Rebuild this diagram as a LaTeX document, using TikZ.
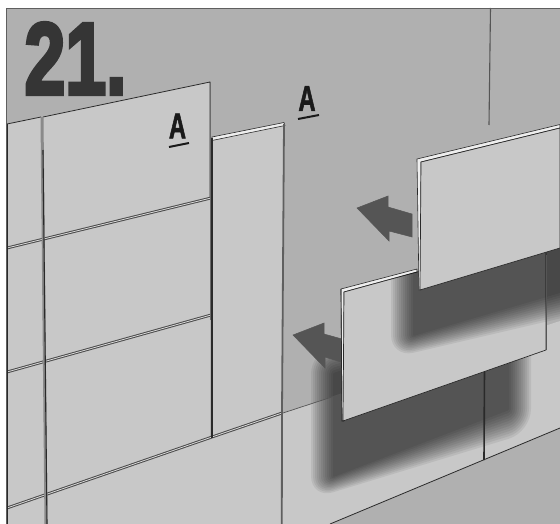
\documentclass[tikz,border=0pt]{standalone}
\usepackage{fontspec}
\newfontfamily\labelfont[FakeBold=2]{Liberation Sans Bold}
\newfontfamily\stepfont[FakeBold=4]{Liberation Sans Bold}
\definecolor{wall}{HTML}{B0B0B0}
\definecolor{tile}{HTML}{C8C8C8}
\definecolor{ink}{HTML}{2A2A2A}
\definecolor{arrowgrey}{HTML}{555555}
% soft quadrilateral: x-left, x-right, top-left y, top-right y, bottom-right y, bottom-left y
\newcommand{\softquad}[6]{\foreach \d in {1,3,...,23}{\fill[black,opacity=.066,rounded corners=\d pt] ({#1-\d},{#3-\d}) -- ({#2+\d},{#4-\d}) -- ({#2+\d},{#5+\d}) -- ({#1-\d},{#6+\d}) -- cycle;}}
\newcommand{\jointline}[2]{\draw[line width=2.8pt,color=ink!85] #1 -- #2;\draw[line width=.8pt,color=white!85!black] #1 -- #2;}
\tikzset{
 edgeline/.style={draw=ink,line width=.8pt},
 thinline/.style={draw=ink!80,line width=.7pt},
 movearrow/.style={fill=arrowgrey,draw=ink!80,line width=.5pt,line join=miter},
 panelface/.style={fill=tile,draw=ink,line width=.7pt,line join=round},
 striplight/.style={fill=white!70!tile,draw=ink,line width=.6pt,line join=round}
}
\begin{document}
\begin{tikzpicture}[x=1pt,y=-1pt]
\useasboundingbox (0,0) rectangle (560,524);
\fill[white] (0,0) rectangle (560,524);
\clip (0,0) rectangle (560,524);
% wall
\fill[wall] (6.5,8) rectangle (560,524);
% tiles
\fill[tile] (7,124) -- (210,82) -- (210,438) -- (283,412) -- (283,524) -- (7,524) -- cycle;
\fill[tile] (212,140) -- (284,125) -- (282,413) -- (212,438) -- cycle;
\fill[tile] (283,413) -- (560,321) -- (560,428) -- (330,524) -- (283,524) -- cycle;
% lower panel shadow on the wall
\begin{scope}
\clip (283,330) -- (560,250) -- (560,428) -- (330,524) -- (283,524) -- cycle;
\softquad{334}{508}{374}{316}{409}{476}
\end{scope}
% wall lines
\draw[edgeline] (7,124) -- (41,117);
\draw[edgeline] (43,117) -- (210,82) -- (210,198);
\draw[thinline] (283,413) -- (341,394);
\draw[line width=1.1pt,color=ink!80] (490.5,8) -- (489,125);
\draw[line width=1.6pt,color=ink] (484.5,370) -- (484,460);
\draw[edgeline] (560,428) -- (330,524);
% joints
\jointline{(7,248)}{(211,198)}
\jointline{(7,372)}{(211,315)}
\jointline{(7,508)}{(212,437)}
\jointline{(212,437)}{(282,413)}
% vertical joint
\draw[line width=3pt,color=ink!55] (42,117) -- (46,524);
\draw[line width=1.1pt,color=ink] (43,150) -- (47,524);
\draw[line width=1pt,color=ink] (7,124) -- (7,524);
\draw[line width=1pt,color=ink!70] (210.5,82) -- (210.5,320);
% narrow panel
\draw[striplight] (212,137) -- (284,122.5) -- (285,125.5) -- (212,140.5) -- cycle;
\draw[line width=2.4pt,color=ink] (212,138) -- (212,438);
\draw[line width=1.8pt,color=ink!75] (284,124) -- (282,413) -- (281.8,524);
% arrow 2 (lower)
\path[movearrow] (293,335) -- (324,323) -- (324,334) -- (342,339) -- (341,362) -- (325,357) -- (325,368) -- cycle;
% lower panel
\path[striplight] (341,289) -- (417,269) -- (417,272) -- (344,292) -- (344,421) -- (342,421) -- cycle;
\path[panelface] (344,292) -- (417,272) -- (546,240) -- (546,350) -- (343,421) -- cycle;
\draw[line width=.7pt,color=ink] (341,289) -- (342,421) -- (344,421);
% upper panel shadow on lower panel and wall
\begin{scope}
\clip (344,292) -- (417,272) -- (560,232) -- (560,350) -- (546,350) -- (343,421) -- cycle;
\softquad{414}{590}{270}{200}{283}{335}
\end{scope}
\draw[line width=1pt,color=ink!80] (546,255) -- (546,350);
% arrow 1 (upper)
\path[movearrow] (357,208) -- (388,196) -- (388,207) -- (412,214) -- (412,237) -- (389,231) -- (389,241) -- cycle;
% upper panel
\path[striplight] (417,159) -- (560,124.5) -- (560,128) -- (421,162) -- (421,290) -- (419,290) -- cycle;
\path[panelface] (421,162) -- (560,128) -- (560,248) -- (420,290) -- cycle;
% labels
\node[inner sep=0pt,xscale=.72,color=ink!95] (stepno) at (75.5,58.5) {\fontsize{102}{102}\selectfont\stepfont 21.};
\node[inner sep=0pt,xscale=.66,color=black!90] (labelone) at (177.5,126) {\fontsize{36}{36}\selectfont\labelfont A};
\node[inner sep=0pt,xscale=.66,color=black!90] (labeltwo) at (307,98.5) {\fontsize{36}{36}\selectfont\labelfont A};
\coordinate (ua) at (169,147); \coordinate (ub) at (189,143);
\coordinate (uc) at (298,119); \coordinate (ud) at (319,115);
\draw[line width=2pt,color=black!90] (ua) -- (ub);
\draw[line width=2pt,color=black!90] (uc) -- (ud);
% frame
\draw[line width=.8pt,color=ink!75] (6.5,524) -- (6.5,8) -- (560,8);
\end{tikzpicture}
\end{document}
